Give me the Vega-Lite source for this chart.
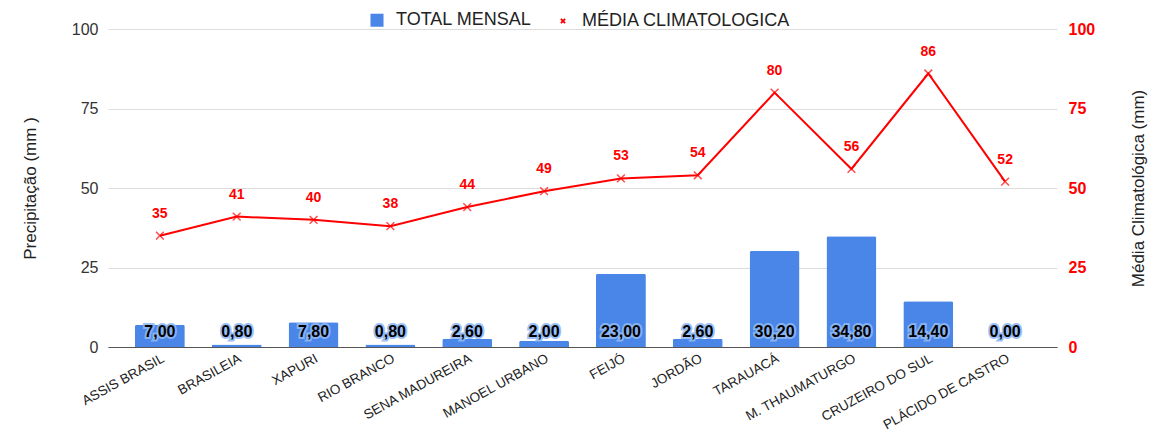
{
  "$schema": "https://vega.github.io/schema/vega-lite/v6.json",
  "width": 949,
  "height": 318,
  "autosize": "none",
  "padding": {"left": 108, "top": 29, "right": 97, "bottom": 86},
  "background": "white",
  "config": {
    "font": "Liberation Sans",
    "view": {"stroke": null},
    "locale": {"number": {"decimal": ",", "thousands": ".", "grouping": [3], "currency": ["R$", ""]}}
  },
  "data": {
    "values": [
      {"cidade": "ASSIS BRASIL", "total": 7.0, "media": 35},
      {"cidade": "BRASILEIA", "total": 0.8, "media": 41},
      {"cidade": "XAPURI", "total": 7.8, "media": 40},
      {"cidade": "RIO BRANCO", "total": 0.8, "media": 38},
      {"cidade": "SENA MADUREIRA", "total": 2.6, "media": 44},
      {"cidade": "MANOEL URBANO", "total": 2.0, "media": 49},
      {"cidade": "FEIJÓ", "total": 23.0, "media": 53},
      {"cidade": "JORDÃO", "total": 2.6, "media": 54},
      {"cidade": "TARAUACÁ", "total": 30.2, "media": 80},
      {"cidade": "M. THAUMATURGO", "total": 34.8, "media": 56},
      {"cidade": "CRUZEIRO DO SUL", "total": 14.4, "media": 86},
      {"cidade": "PLÁCIDO DE CASTRO", "total": 0.0, "media": 52}
    ]
  },
  "encoding": {
    "x": {
      "field": "cidade",
      "type": "nominal",
      "sort": null,
      "scale": {"paddingInner": 0.35, "paddingOuter": 0.35},
      "axis": {
        "title": null,
        "labelAngle": -29,
        "labelFontSize": 13.5,
        "labelColor": "#222",
        "labelAlign": "right",
        "labelBaseline": "top",
        "labelPadding": 4,
        "ticks": false,
        "domainColor": "#555",
        "labelLimit": 300
      }
    }
  },
  "layer": [
    {
      "layer": [
        {
          "mark": {"type": "bar", "color": "#4a86e8", "cornerRadiusTopLeft": 2, "cornerRadiusTopRight": 2},
          "encoding": {
            "y": {
              "field": "total",
              "type": "quantitative",
              "scale": {"domain": [0, 100], "nice": false},
              "axis": {
                "title": "Precipitação (mm )",
                "titleFontSize": 17,
                "titleFontWeight": "normal",
                "titleColor": "#222",
                "titlePadding": 32,
                "values": [0, 25, 50, 75, 100],
                "labelFontSize": 16,
                "labelColor": "#333",
                "labelPadding": 10,
                "ticks": false,
                "domain": false,
                "gridColor": "#dddddd"
              }
            },
            "color": {
              "datum": "TOTAL MENSAL",
              "type": "nominal",
              "scale": {"domain": ["TOTAL MENSAL", "MÉDIA CLIMATOLOGICA"], "range": ["#4a86e8", "#ff0000"]},
              "legend": {
                "title": null,
                "orient": "none",
                "legendX": 260,
                "legendY": -18,
                "direction": "horizontal",
                "labelFontSize": 18,
                "labelColor": "#222",
                "symbolSize": 170,
                "columnPadding": 22,
                "labelOffset": 10,
                "labelLimit": 400,
                "encode": {
                  "symbols": {
                    "update": {
                      "shape": {"signal": "datum.value === 'TOTAL MENSAL' ? 'square' : 'M-0.5,-0.5L0.5,0.5M0.5,-0.5L-0.5,0.5'"},
                      "fill": {"signal": "datum.value === 'TOTAL MENSAL' ? '#4a86e8' : 'transparent'"},
                      "stroke": {"signal": "datum.value === 'TOTAL MENSAL' ? 'transparent' : '#ff0000'"},
                      "strokeWidth": {"value": 2},
                      "size": {"signal": "datum.value === 'TOTAL MENSAL' ? 170 : 70"}
                    }
                  }
                }
              }
            }
          }
        },
        {
          "mark": {"type": "text", "fontSize": 16, "fontWeight": "bold", "stroke": "#8fb8f5", "strokeWidth": 4, "strokeOpacity": 0.9, "fill": "#8fb8f5", "baseline": "middle", "dy": -15},
          "encoding": {
            "y": {"datum": 0, "type": "quantitative"},
            "text": {"field": "total", "type": "quantitative", "format": ".2f"}
          }
        },
        {
          "mark": {"type": "text", "fontSize": 16, "fontWeight": "bold", "fill": "#000", "baseline": "middle", "dy": -15},
          "encoding": {
            "y": {"datum": 0, "type": "quantitative"},
            "text": {"field": "total", "type": "quantitative", "format": ".2f"}
          }
        }
      ]
    },
    {
      "layer": [
        {
          "mark": {"type": "line", "color": "#ff0000", "strokeWidth": 2},
          "encoding": {
            "y": {
              "field": "media",
              "type": "quantitative",
              "scale": {"domain": [0, 100], "nice": false},
              "axis": {
                "orient": "right",
                "title": "Média Climatológica (mm)",
                "titleFontSize": 17,
                "titleFontWeight": "normal",
                "titleColor": "#222",
                "titleAngle": 270,
                "titlePadding": 53,
                "values": [0, 25, 50, 75, 100],
                "labelFontSize": 16,
                "labelFontWeight": "bold",
                "labelColor": "#ff0000",
                "labelPadding": 11,
                "ticks": false,
                "domain": false,
                "grid": false
              }
            }
          }
        },
        {
          "mark": {"type": "point", "shape": "M-1,-1L1,1M1,-1L-1,1", "filled": false, "stroke": "#ff0000", "strokeWidth": 1.5, "size": 60},
          "encoding": {
            "y": {"field": "media", "type": "quantitative"}
          }
        },
        {
          "mark": {"type": "text", "fontSize": 14, "fontWeight": "bold", "color": "#ff0000", "baseline": "middle", "dy": -22},
          "encoding": {
            "y": {"field": "media", "type": "quantitative"},
            "text": {"field": "media", "type": "quantitative"}
          }
        }
      ]
    }
  ],
  "resolve": {"scale": {"y": "independent"}}
}
